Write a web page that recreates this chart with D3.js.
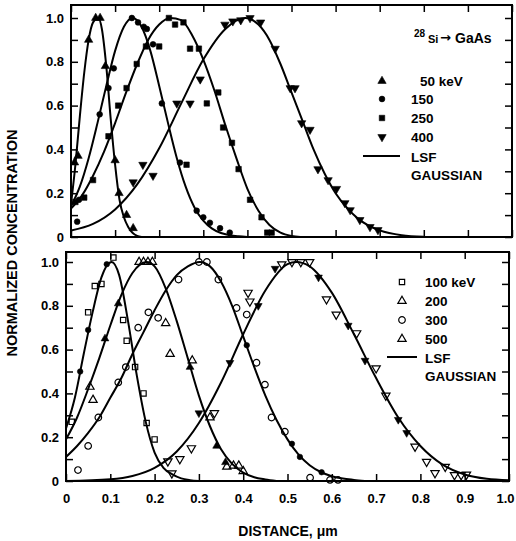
<!DOCTYPE html>
<html><head><meta charset="utf-8">
<script src="https://cdn.jsdelivr.net/npm/d3@7"></script>
<style>
body{margin:0;background:#fff}
text{font-family:"Liberation Sans",Arial,sans-serif;font-weight:bold;fill:#000}
</style>
</head><body><svg id="c" width="516" height="541"></svg>
<script>
// ---------- DATA ----------
const xTickValues = [0,0.1,0.2,0.3,0.4,0.5,0.6,0.7,0.8,0.9,1.0];
const xTickLabels = ["0","0.1","0.2","0.3","0.4","0.5","0.6","0.7","0.8","0.9","1.0"];
const yTickValues = [0,0.1,0.2,0.3,0.4,0.5,0.6,0.7,0.8,0.9,1.0];
const yTickLabels = ["0","","0.2","","0.4","","0.6","","0.8","","1.0"];

const topLegendLabels = ["50 keV","150","250","400"];
const botLegendLabels = ["100 keV","200","300","500"];

// top panel fitted curves [distance, conc]
const top50Curve = [[0,0.15],[0.01,0.33],[0.02,0.55],[0.03,0.75],[0.04,0.9],[0.05,0.98],[0.062,1.0],[0.07,0.95],[0.08,0.78],[0.09,0.54],[0.1,0.33],[0.11,0.17],[0.12,0.09],[0.13,0.045],[0.14,0.018],[0.15,0.005],[0.16,0]];
const top150Curve = [[0,0.14],[0.02,0.23],[0.04,0.36],[0.06,0.52],[0.08,0.69],[0.1,0.85],[0.12,0.96],[0.14,1.0],[0.16,0.96],[0.18,0.85],[0.2,0.69],[0.22,0.52],[0.24,0.36],[0.26,0.23],[0.28,0.135],[0.3,0.075],[0.32,0.038],[0.34,0.018],[0.36,0.008],[0.38,0.003],[0.4,0]];
const top250Curve = [[0,0.13],[0.025,0.19],[0.05,0.28],[0.075,0.39],[0.1,0.52],[0.125,0.66],[0.15,0.79],[0.175,0.9],[0.2,0.97],[0.225,1.0],[0.25,0.99],[0.275,0.92],[0.3,0.81],[0.325,0.67],[0.35,0.51],[0.375,0.36],[0.4,0.22],[0.425,0.12],[0.45,0.055],[0.475,0.02],[0.5,0.005],[0.52,0]];
const top400Curve = [[0,0.03],[0.05,0.06],[0.1,0.126],[0.15,0.24],[0.2,0.405],[0.25,0.61],[0.3,0.81],[0.35,0.95],[0.395,1.0],[0.425,0.97],[0.45,0.9],[0.475,0.79],[0.5,0.66],[0.525,0.53],[0.55,0.4],[0.575,0.29],[0.6,0.2],[0.625,0.135],[0.65,0.085],[0.675,0.052],[0.7,0.03],[0.75,0.008],[0.8,0.001]];

// top panel measured points
const top50Pts = [[0.008,0.34],[0.016,0.37],[0.04,0.9],[0.056,1.0],[0.066,1.0],[0.078,0.78],[0.1,0.35],[0.109,0.2],[0.126,0.1],[0.141,0.04]];
const top150Pts = [[0.014,0.07],[0.018,0.17],[0.065,0.56],[0.085,0.68],[0.097,0.77],[0.138,1.0],[0.152,0.98],[0.165,0.96],[0.172,0.95],[0.186,0.88],[0.206,0.61],[0.247,0.34],[0.285,0.12],[0.3,0.09],[0.315,0.065],[0.338,0.04],[0.36,0.02]];
const top250Pts = [[0.01,0.16],[0.03,0.18],[0.05,0.26],[0.085,0.46],[0.107,0.6],[0.126,0.68],[0.149,0.79],[0.17,0.87],[0.2,0.87],[0.222,1.0],[0.236,0.97],[0.255,0.98],[0.27,0.86],[0.29,0.86],[0.308,0.61],[0.262,0.33],[0.334,0.66],[0.345,0.5],[0.365,0.43],[0.38,0.31],[0.406,0.17],[0.432,0.09],[0.445,0.02],[0.455,0.02]];
const top400Pts = [[0.141,0.25],[0.163,0.33],[0.186,0.28],[0.24,0.61],[0.27,0.61],[0.293,0.72],[0.349,0.97],[0.367,0.985],[0.385,0.99],[0.406,1.0],[0.43,0.98],[0.463,0.86],[0.497,0.68],[0.508,0.68],[0.523,0.52],[0.542,0.49],[0.56,0.31],[0.583,0.26],[0.602,0.22],[0.621,0.155],[0.633,0.123],[0.655,0.078],[0.678,0.046],[0.696,0.032]];

// bottom panel fitted curves
const bot100Curve = [[0,0.24],[0.02,0.38],[0.04,0.58],[0.06,0.77],[0.08,0.93],[0.103,1.0],[0.12,0.94],[0.14,0.73],[0.16,0.48],[0.18,0.27],[0.2,0.13],[0.22,0.06],[0.24,0.03],[0.26,0.012],[0.28,0.004],[0.3,0]];
const bot200Curve = [[0,0.19],[0.025,0.29],[0.05,0.42],[0.075,0.56],[0.1,0.71],[0.125,0.85],[0.15,0.95],[0.182,1.0],[0.2,0.98],[0.225,0.88],[0.25,0.73],[0.275,0.56],[0.3,0.39],[0.325,0.25],[0.35,0.145],[0.375,0.078],[0.4,0.038],[0.425,0.017],[0.45,0.007],[0.475,0]];
const bot300Curve = [[0,0.11],[0.025,0.16],[0.05,0.22],[0.075,0.29],[0.1,0.38],[0.125,0.47],[0.15,0.58],[0.175,0.68],[0.2,0.78],[0.225,0.87],[0.25,0.94],[0.275,0.98],[0.302,1.0],[0.325,0.98],[0.35,0.91],[0.375,0.8],[0.4,0.66],[0.425,0.52],[0.45,0.39],[0.475,0.28],[0.5,0.19],[0.525,0.12],[0.55,0.072],[0.575,0.041],[0.6,0.022],[0.625,0.011],[0.65,0.005],[0.675,0]];
const bot500Curve = [[0,0],[0.1,0.008],[0.15,0.023],[0.2,0.06],[0.25,0.135],[0.3,0.265],[0.35,0.45],[0.4,0.67],[0.45,0.87],[0.5,0.99],[0.52,1.0],[0.55,0.98],[0.6,0.86],[0.65,0.67],[0.7,0.47],[0.75,0.29],[0.8,0.16],[0.85,0.075],[0.9,0.03],[0.95,0.01],[1.0,0.003]];

// bottom panel measured points (open symbols)
const bot100Pts = [[0.013,0.27],[0.05,0.77],[0.065,0.89],[0.08,0.9],[0.107,1.02],[0.129,0.735],[0.137,0.64],[0.156,0.52],[0.175,0.4],[0.182,0.265],[0.2,0.19]];
const bot200Pts = [[0.054,0.43],[0.061,0.37],[0.165,1.0],[0.175,1.0],[0.185,1.0],[0.195,1.0],[0.225,0.72],[0.235,0.58],[0.285,0.55],[0.325,0.29],[0.363,0.065],[0.378,0.07],[0.39,0.07],[0.4,0.045]];
const bot300Pts = [[0.027,0.05],[0.05,0.16],[0.073,0.29],[0.118,0.45],[0.135,0.52],[0.163,0.7],[0.186,0.77],[0.208,0.745],[0.254,0.92],[0.3,1.0],[0.318,1.0],[0.344,0.92],[0.385,0.79],[0.408,0.76],[0.43,0.54],[0.449,0.44],[0.464,0.29],[0.494,0.225],[0.551,0.015],[0.596,0.005],[0.614,0.005]];
const bot500Pts = [[0.23,0.09],[0.239,0.035],[0.257,0.1],[0.283,0.15],[0.335,0.31],[0.411,0.86],[0.415,0.82],[0.487,0.99],[0.51,1.0],[0.53,1.0],[0.55,1.0],[0.588,0.83],[0.61,0.76],[0.656,0.675],[0.7,0.515],[0.722,0.39],[0.788,0.157],[0.814,0.088],[0.833,0.036],[0.856,0.065],[0.877,0.027],[0.892,0.027],[0.904,0.03]];
// bottom panel filled marks lying on the curves
const bot100Dots = [[0.032,0.5],[0.05,0.69],[0.092,0.99]];
const bot200Dots = [[0.088,0.65],[0.118,0.81],[0.28,0.52],[0.34,0.16],[0.36,0.085]];
const bot300Dots = [[0.408,0.62],[0.51,0.17],[0.528,0.11],[0.577,0.04]];
const bot500Dots = [[0.3,0.31],[0.37,0.54],[0.434,0.8],[0.472,0.97],[0.57,0.93],[0.637,0.71],[0.675,0.55],[0.75,0.28],[0.769,0.22]];

// ---------- DRAW ----------
const svg = d3.select("#c");
const symTypes = {
  tri: d3.symbolTriangle, circle: d3.symbolCircle, square: d3.symbolSquare
};

function drawMarks(g, pts, x, y, type, filled, size, flip) {
  const sym = d3.symbol().type(symTypes[type]).size(size);
  g.selectAll(null).data(pts).join("path")
    .attr("d", sym)
    .attr("transform", d => `translate(${x(d[0])},${y(d[1])})${flip ? " rotate(180)" : ""}`)
    .attr("fill", filled ? "#000" : "none")
    .attr("stroke", "#000")
    .attr("stroke-width", filled ? 0.6 : 1.2);
}

function panel(cfg, id) {
  const x = d3.scaleLinear([0, 1], [cfg.x0, cfg.x1]);
  const y = d3.scaleLinear([0, 1], [cfg.yZero, cfg.yOne]);
  const g = svg.append("g");
  g.append("clipPath").attr("id", "clip" + id).append("rect")
    .attr("x", cfg.x0).attr("y", cfg.frameTop)
    .attr("width", cfg.x1 - cfg.x0).attr("height", cfg.yZero - cfg.frameTop);

  const styleAxis = a => {
    a.select(".domain").remove();
    a.selectAll(".tick line").attr("stroke", "#000").attr("stroke-width", 1.5);
    a.selectAll("text").attr("font-size", 13).attr("font-family", null);
  };
  g.append("g").attr("transform", `translate(${cfg.x0},0)`)
    .call(d3.axisLeft(y).tickValues(yTickValues).tickSize(-7).tickPadding(7)
      .tickFormat((d, i) => yTickLabels[i])).call(styleAxis);
  g.append("g").attr("transform", `translate(${cfg.x1},0)`)
    .call(d3.axisRight(y).tickValues(yTickValues).tickSize(-7).tickFormat(() => "")).call(styleAxis);
  const xb = g.append("g").attr("transform", `translate(0,${cfg.yZero})`)
    .call(d3.axisBottom(x).tickValues(xTickValues).tickSize(-7).tickPadding(13)
      .tickFormat((d, i) => cfg.xLabels ? xTickLabels[i] : "")).call(styleAxis);
  // last label sits against the page edge, as in the original
  xb.selectAll(".tick text").filter((d, i, n) => i === n.length - 1).attr("dx", -4);
  g.append("g").attr("transform", `translate(0,${cfg.frameTop})`)
    .call(d3.axisTop(x).tickValues(xTickValues).tickSize(-7).tickFormat(() => "")).call(styleAxis);

  g.append("rect").attr("x", cfg.x0).attr("y", cfg.frameTop)
    .attr("width", cfg.x1 - cfg.x0).attr("height", cfg.yZero - cfg.frameTop)
    .attr("fill", "none").attr("stroke", "#000").attr("stroke-width", 2);

  const line = d3.line().x(d => x(d[0])).y(d => y(d[1])).curve(d3.curveMonotoneX);
  const cg = g.append("g").attr("clip-path", `url(#clip${id})`);
  cfg.curves.forEach(c => cg.append("path").attr("d", line(c))
    .attr("fill", "none").attr("stroke", "#000").attr("stroke-width", 2));
  cfg.marks.forEach(m => drawMarks(g, m.pts, x, y, m.type, m.filled, m.size, m.flip));

  // legend
  const L = cfg.legend;
  cfg.legendItems.forEach((it, i) => {
    const ly = L.rows[i];
    g.append("path").attr("d", d3.symbol().type(symTypes[it.type]).size(it.size)())
      .attr("transform", `translate(${L.symX},${ly - 5})${it.flip ? " rotate(180)" : ""}`)
      .attr("fill", it.filled ? "#000" : "none").attr("stroke", "#000").attr("stroke-width", it.filled ? 0.6 : 1.2);
    g.append("text").attr("x", it.tx).attr("y", ly).attr("font-size", 13.5).text(it.label);
  });
  g.append("line").attr("x1", L.lineX0).attr("x2", L.lineX1).attr("y1", L.lineY).attr("y2", L.lineY)
    .attr("stroke", "#000").attr("stroke-width", 2);
  g.append("text").attr("x", L.textX).attr("y", L.lineY + 6).attr("font-size", 13.5).text("LSF");
  g.append("text").attr("x", L.textX).attr("y", L.lineY + 24).attr("font-size", 13.5).text("GAUSSIAN");
}

panel({
  x0: 71, x1: 512, yZero: 237, yOne: 18, frameTop: 5, xLabels: false,
  curves: [top50Curve, top150Curve, top250Curve, top400Curve],
  marks: [
    {pts: top50Pts, type: "tri", filled: true, size: 30},
    {pts: top150Pts, type: "circle", filled: true, size: 26},
    {pts: top250Pts, type: "square", filled: true, size: 30},
    {pts: top400Pts, type: "tri", filled: true, size: 30, flip: true}
  ],
  legend: {symX: 382, rows: [86, 104, 123, 142], lineX0: 363, lineX1: 400, lineY: 156, textX: 411},
  legendItems: [
    {type: "tri", filled: true, size: 30, label: topLegendLabels[0], tx: 420},
    {type: "circle", filled: true, size: 26, label: topLegendLabels[1], tx: 411},
    {type: "square", filled: true, size: 30, label: topLegendLabels[2], tx: 411},
    {type: "tri", filled: true, size: 30, flip: true, label: topLegendLabels[3], tx: 411}
  ]
}, "t");

panel({
  x0: 66, x1: 509, yZero: 481, yOne: 262, frameTop: 252, xLabels: true,
  curves: [bot100Curve, bot200Curve, bot300Curve, bot500Curve],
  marks: [
    {pts: bot100Pts, type: "square", filled: false, size: 28},
    {pts: bot200Pts, type: "tri", filled: false, size: 30},
    {pts: bot300Pts, type: "circle", filled: false, size: 34},
    {pts: bot500Pts, type: "tri", filled: false, size: 30, flip: true},
    {pts: bot100Dots, type: "circle", filled: true, size: 24},
    {pts: bot200Dots, type: "tri", filled: true, size: 26},
    {pts: bot300Dots, type: "circle", filled: true, size: 24},
    {pts: bot500Dots, type: "tri", filled: true, size: 26, flip: true}
  ],
  legend: {symX: 402, rows: [287, 306, 325, 344], lineX0: 387, lineX1: 417, lineY: 357, textX: 425},
  legendItems: [
    {type: "square", filled: false, size: 28, label: botLegendLabels[0], tx: 425},
    {type: "tri", filled: false, size: 30, label: botLegendLabels[1], tx: 425},
    {type: "circle", filled: false, size: 34, label: botLegendLabels[2], tx: 425},
    {type: "tri", filled: false, size: 30, label: botLegendLabels[3], tx: 425}
  ]
}, "b");

// ion / target annotation
svg.append("text").attr("x", 414).attr("y", 37).attr("font-size", 10).text("28");
svg.append("text").attr("x", 428).attr("y", 43).attr("font-size", 11).text("Si");
svg.append("text").attr("x", 440).attr("y", 42).attr("font-size", 13)
  .style("font-family", "'DejaVu Sans'").text("\u2192");
svg.append("text").attr("x", 455).attr("y", 43).attr("font-size", 14).text("GaAs");

// axis titles
svg.append("text").attr("transform", "translate(17,243) rotate(-90)")
  .attr("text-anchor", "middle").attr("font-size", 14.5).text("NORMALIZED CONCENTRATION");
svg.append("text").attr("x", 288).attr("y", 536).attr("text-anchor", "middle")
  .attr("font-size", 14).text("DISTANCE, \u03bcm");
</script>
</body></html>
